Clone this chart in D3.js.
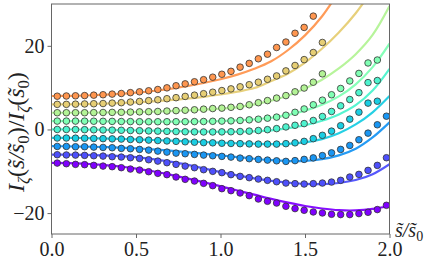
<!DOCTYPE html>
<html><head><meta charset="utf-8">
<script src="https://cdn.jsdelivr.net/npm/d3@7"></script>
<style>body{margin:0;background:#fff}svg{display:block}</style>
</head><body>
<svg id="c" width="436" height="267"></svg>
<script>
// sample positions of the data points (s~/s~0)
const pointS = [0.034,0.088,0.142,0.196,0.250,0.305,0.359,0.413,0.467,0.521,0.575,0.629,0.683,0.737,0.791,0.846,0.900,0.954,1.008,1.062,1.116,1.170,1.224,1.278,1.332,1.387,1.441,1.495,1.549,1.603,1.657,1.711,1.765,1.819,1.873,1.928,1.982];
// sample positions of the model curves
const lineS = [0,0.1,0.2,0.3,0.4,0.5,0.6,0.7,0.8,0.9,1.0,1.1,1.2,1.3,1.4,1.5,1.6,1.7,1.8,1.9,2.0];

// data points, one array per series (bottom to top)
const pts0 = [-8.04,-8.19,-8.35,-8.42,-8.59,-8.76,-8.9,-9.14,-9.47,-9.71,-10.1,-10.5,-10.81,-11.38,-11.93,-12.34,-12.89,-13.44,-14.16,-14.64,-15.2,-15.83,-16.63,-17.18,-17.6,-18.38,-18.93,-19.33,-19.73,-19.97,-20.29,-20.36,-20.36,-20.12,-19.81,-19.16,-18.14];
const pts1 = [-6.04,-6.1,-6.13,-6.2,-6.28,-6.37,-6.52,-6.6,-6.76,-6.92,-7.24,-7.57,-7.95,-8.35,-8.76,-9.14,-9.62,-10.02,-10.33,-10.81,-11.22,-11.53,-11.86,-12.17,-12.5,-12.82,-12.96,-13.05,-12.96,-12.82,-12.58,-12.17,-11.38,-10.74,-9.79,-8.59,-6.76];
const pts2 = [-4.06,-4.06,-4.13,-4.13,-4.22,-4.3,-4.37,-4.53,-4.61,-4.77,-4.94,-5.18,-5.42,-5.66,-5.8,-5.97,-6.13,-6.28,-6.44,-6.61,-6.85,-6.99,-7.16,-7.33,-7.5,-7.64,-7.45,-7.16,-6.8,-6.25,-5.6,-4.77,-3.82,-2.46,-0.88,1.12,3.17];
const pts3 = [-2.05,-2.05,-2.08,-2.1,-2.15,-2.2,-2.25,-2.3,-2.4,-2.45,-2.55,-2.65,-2.75,-2.85,-2.95,-3.05,-3.15,-3.2,-3.3,-3.35,-3.4,-3.45,-3.5,-3.5,-3.5,-3.4,-3.2,-2.85,-2.2,-1.4,-0.4,0.9,2.46,4.13,6.3,6.75];
const pts4 = [0.0,0.0,-0.02,-0.05,-0.08,-0.12,-0.16,-0.2,-0.25,-0.3,-0.35,-0.4,-0.45,-0.5,-0.55,-0.58,-0.6,-0.6,-0.58,-0.55,-0.5,-0.4,-0.25,-0.05,0.2,0.6,1.0,1.4,2.15,3.1,4.3,5.66,7.16,8.8,11.2,11.7];
const pts5 = [2.0,2.0,2.0,1.98,1.97,1.95,1.93,1.9,1.88,1.86,1.85,1.85,1.85,1.85,1.86,1.88,1.9,1.95,2.0,2.05,2.15,2.3,2.45,2.7,2.95,3.4,4.1,4.9,5.9,7.0,8.3,9.8,11.6,13.4,15.9,16.6];
const pts6 = [4.0,4.0,4.0,4.0,4.02,4.05,4.08,4.1,4.15,4.2,4.25,4.3,4.4,4.5,4.6,4.7,4.85,5.0,5.1,5.3,5.5,5.9,6.4,6.9,7.5,8.1,9.0,9.9,11.3,13.3];
const pts7 = [6.0,6.0,6.05,6.1,6.15,6.2,6.3,6.4,6.55,6.7,6.9,7.1,7.35,7.6,7.9,8.2,8.55,8.9,9.3,9.7,10.2,10.7,11.3,12.0,12.8,14.0,15.3,16.7,18.4,20.8];
const pts8 = [7.95,8.0,8.05,8.1,8.2,8.3,8.45,8.6,8.8,9.0,9.25,9.55,9.95,10.45,10.9,11.4,11.9,12.5,13.2,13.9,14.9,15.8,16.9,18.0,19.6,20.9,23.0,24.4,27.1];

// model curves
const fit0 = [-8.0,-8.05,-8.2,-8.45,-8.8,-9.35,-10.0,-10.8,-11.7,-12.6,-13.6,-14.6,-15.6,-16.6,-17.5,-18.3,-18.9,-19.3,-19.35,-19.0,-18.3];
const fit1 = [-6.0,-6.03,-6.1,-6.2,-6.35,-6.6,-7.1,-7.7,-8.4,-9.3,-10.2,-11.0,-11.7,-12.3,-12.7,-13.0,-13.05,-12.8,-12.1,-10.7,-8.3];
const fit2 = [-4.0,-4.04,-4.1,-4.2,-4.33,-4.5,-4.75,-5.05,-5.4,-5.8,-6.2,-6.6,-7.0,-7.35,-7.55,-7.5,-7.1,-6.2,-4.6,-1.9,1.7];
const fit3 = [-2.0,-2.02,-2.07,-2.15,-2.25,-2.38,-2.52,-2.68,-2.85,-3.0,-3.15,-3.3,-3.42,-3.5,-3.45,-3.1,-2.3,-0.9,1.2,4.1,8.0];
const fit4 = [0.0,0.0,-0.03,-0.08,-0.15,-0.22,-0.3,-0.38,-0.46,-0.52,-0.56,-0.55,-0.45,-0.2,0.3,1.0,2.1,3.6,5.8,9.3,14.5];
const fit5 = [2.0,2.0,1.98,1.95,1.92,1.9,1.88,1.87,1.88,1.92,2.0,2.15,2.4,2.8,3.5,4.5,5.9,7.9,10.8,14.9,20.5];
const fit6 = [4.0,4.0,4.02,4.05,4.1,4.17,4.26,4.38,4.53,4.72,4.97,5.3,6.0,6.9,8.1,9.8,11.9,14.6,18.0,22.6,29.5];
const fit7 = [6.0,6.02,6.08,6.17,6.3,6.47,6.7,7.0,7.35,7.8,8.35,9.05,9.9,11.6,13.4,16.0,19.3,23.2,27.8,33.5,40.0];
const fit8 = [8.0,8.03,8.12,8.28,8.5,8.8,9.2,9.7,10.35,11.1,12.0,13.1,14.5,16.3,19.0,22.5,27.0,33.0,40.0,48.0,56.0];

const colors = ["#7f00ff","#4d4ffc","#1996f3","#1acee3","#4df3ce","#80ffb4","#b3f396","#e6ce74","#ff964f"];
const xTicks = [0,0.5,1,1.5,2];
const xTickLabels = ["0.0","0.5","1.0","1.5","2.0"];
const yTicks = [-20,0,20];
const yTickLabels = ["\u221220","0","20"];

const allPts = [pts0,pts1,pts2,pts3,pts4,pts5,pts6,pts7,pts8];
const allFits = [fit0,fit1,fit2,fit3,fit4,fit5,fit6,fit7,fit8];

const m = {left: 51.5, right: 389.5, top: 4, bottom: 234};
const x = d3.scaleLinear().domain([0,2]).range([m.left, m.right]);
const y = d3.scaleLinear().domain([-25,30]).range([m.bottom, m.top]);
const svg = d3.select("#c");
const font = "'Liberation Serif', 'DejaVu Serif', serif";

svg.append("defs").append("clipPath").attr("id","clip")
  .append("rect").attr("x",m.left).attr("y",m.top).attr("width",m.right-m.left).attr("height",m.bottom-m.top);

const plot = svg.append("g").attr("clip-path","url(#clip)");
const line = d3.line().x(d=>x(d[0])).y(d=>y(d[1])).curve(d3.curveCatmullRom.alpha(0.5));

allPts.forEach((p,i)=>{
  const fit = allFits[i];
  plot.append("path").datum(lineS.map((s,j)=>[s,fit[j]]))
    .attr("d",line).attr("fill","none").attr("stroke",colors[i]).attr("stroke-width",2.2).attr("stroke-opacity",0.95);
  plot.selectAll(null).data(p.map((v,j)=>[pointS[j],v])).enter().append("circle")
    .attr("cx",d=>x(d[0])).attr("cy",d=>y(d[1])).attr("r",3.3)
    .attr("fill",colors[i]).attr("stroke","#333").attr("stroke-width",0.8);
});

// frame
svg.append("rect").attr("x",m.left).attr("y",m.top).attr("width",m.right-m.left).attr("height",m.bottom-m.top)
  .attr("fill","none").attr("stroke","#666").attr("stroke-width",1);

const xAxis = d3.axisBottom(x).tickValues(xTicks).tickFormat((d,i)=>xTickLabels[i]).tickSize(4).tickPadding(4);
const gx = svg.append("g").attr("transform",`translate(0,${m.bottom})`).call(xAxis);
const yAxis = d3.axisLeft(y).tickValues(yTicks).tickFormat((d,i)=>yTickLabels[i]).tickSize(4).tickPadding(3);
const gy = svg.append("g").attr("transform",`translate(${m.left},0)`).call(yAxis);
[gx,gy].forEach(g=>{
  g.select(".domain").remove();
  g.selectAll("line").attr("stroke","#666");
  g.selectAll("text").attr("font-family",font).attr("font-size",20).attr("fill","#222");
});

// x label
const xl = svg.append("text").attr("x",395).attr("y",237).attr("font-family",font).attr("font-size",20).attr("fill","#222").attr("font-style","italic");
xl.append("tspan").text("s\u0303/s\u0303");
xl.append("tspan").attr("font-size",14).attr("dy",4).attr("font-style","normal").text("0");

// y label
const yl = svg.append("text").attr("transform","translate(24,132) rotate(-90)").attr("text-anchor","middle")
  .attr("font-family",font).attr("font-size",20).attr("fill","#222").attr("font-style","italic");
const parts = [["I",1,0,"italic"],["\u03b6",0.7,4,"italic"],["(",1,-4,"normal"],["s\u0303/s\u0303",1,0,"italic"],["0",0.7,4,"normal"],[")/",1,-4,"normal"],["I",1,0,"italic"],["\u03b6",0.7,4,"italic"],["(",1,-4,"normal"],["s\u0303",1,0,"italic"],["0",0.7,4,"normal"],[")",1,-4,"normal"]];
function buildLabel(fs){
  yl.selectAll("tspan").remove();
  yl.attr("font-size",fs);
  parts.forEach(p=>yl.append("tspan").attr("font-size",fs*p[1]).attr("dy",p[2]*fs/20).attr("font-style",p[3]).text(p[0]));
}
buildLabel(20);
const natural = yl.node().getComputedTextLength();
buildLabel(Math.min(24, 20*128/natural));
</script>
</body></html>
